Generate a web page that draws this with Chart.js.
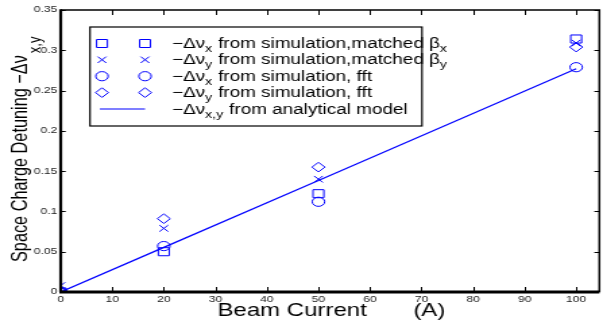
<!DOCTYPE html>
<html>
<head>
<meta charset="utf-8">
<script src="https://cdn.jsdelivr.net/npm/chart.js@4/dist/chart.umd.min.js"></script>
<style>
html,body{margin:0;padding:0;background:#fff;overflow:hidden;width:607px;height:322px;}
#wrap{position:absolute;left:0;top:0;width:451px;height:322px;transform:scaleX(1.349);transform-origin:0 0;}
canvas{display:block;}
</style>
</head>
<body>
<div id="wrap"><canvas id="c" width="451" height="322"></canvas></div>
<script>
// ---- data ----
const currents     = [0, 20, 50, 100];            // Beam current (A)
const dnuxMatched  = [0, 0.050, 0.122, 0.314];    // squares
const dnuyMatched  = [0.008, 0.079, 0.140, 0.309];// crosses
const dnuxFft      = [0, 0.057, 0.112, 0.279];    // circles
const dnuyFft      = [0, 0.091, 0.155, 0.304];    // diamonds
const analytical   = [0, 0.0554, 0.1385, 0.277];  // line
const xTickValues  = [0, 10, 20, 30, 40, 50, 60, 70, 80, 90, 100];
const yTickValues  = [0, 0.05, 0.1, 0.15, 0.2, 0.25, 0.3, 0.35];
const yTickLabels  = ['0', '0.05', '0.1', '0.15', '0.2', '0.25', '0.3', '0.35'];
const xTitle = 'Beam Current       (A)';
const yTitleMain = 'Space Charge Detuning \u2212\u0394\u03bd';
const yTitleSub = 'x,y';
// legend labels as [text, isSubscript] segments
const legendLabels = [
  [['\u2212\u0394\u03bd',0],['x',1],[' from simulation,matched \u03b2',0],['x',1]],
  [['\u2212\u0394\u03bd',0],['y',1],[' from simulation,matched \u03b2',0],['y',1]],
  [['\u2212\u0394\u03bd',0],['x',1],[' from simulation, fft',0]],
  [['\u2212\u0394\u03bd',0],['y',1],[' from simulation, fft',0]],
  [['\u2212\u0394\u03bd',0],['x,y',1],[' from analytical model',0]]
];
const legendStyles = ['rect','crossRot','circle','rectRot','line'];

const BLUE = '#0000ff';
const FONT = '"Liberation Sans", Arial, sans-serif';
const pts = arr => currents.map((c, i) => ({x: c, y: arr[i]}));

function markerDs(arr, style, r) {
  return {data: pts(arr), showLine: false, pointStyle: style, pointRadius: r, pointHoverRadius: r,
          pointBorderColor: BLUE, pointBackgroundColor: 'rgba(0,0,0,0)', pointBorderWidth: 1, borderColor: BLUE};
}

function drawMarker(ctx, style, x, y) {
  ctx.save();
  ctx.strokeStyle = BLUE; ctx.lineWidth = 1;
  ctx.beginPath();
  if (style === 'rect') { ctx.rect(x - 4, y - 4, 8, 8); }
  else if (style === 'crossRot') { ctx.moveTo(x-3.2,y-3.2); ctx.lineTo(x+3.2,y+3.2); ctx.moveTo(x+3.2,y-3.2); ctx.lineTo(x-3.2,y+3.2); }
  else if (style === 'circle') { ctx.arc(x, y, 4.6, 0, Math.PI*2); }
  else if (style === 'rectRot') { ctx.moveTo(x, y-4.8); ctx.lineTo(x+4.8, y); ctx.lineTo(x, y+4.8); ctx.lineTo(x-4.8, y); ctx.closePath(); }
  ctx.stroke();
  ctx.restore();
}

const decor = {
  id: 'decor',
  afterDraw(chart) {
    const ctx = chart.ctx, a = chart.chartArea;
    const xs = chart.scales.x, ys = chart.scales.y;
    ctx.save();
    // box
    ctx.strokeStyle = '#000';
    ctx.lineWidth = 1.5;
    ctx.beginPath(); ctx.moveTo(a.left, a.top); ctx.lineTo(a.right, a.top); ctx.lineTo(a.right, a.bottom); ctx.stroke();
    ctx.lineWidth = 2.2;
    ctx.beginPath(); ctx.moveTo(a.left, a.top - 0.7); ctx.lineTo(a.left, a.bottom); ctx.stroke();
    ctx.lineWidth = 3;
    ctx.beginPath(); ctx.moveTo(a.left - 1, a.bottom); ctx.lineTo(a.right, a.bottom); ctx.stroke();
    // inward ticks
    ctx.lineWidth = 1;
    ctx.beginPath();
    xTickValues.forEach(v => {
      const px = Math.round(xs.getPixelForValue(v)) + 0.5;
      ctx.moveTo(px, a.bottom); ctx.lineTo(px, a.bottom - 5);
      ctx.moveTo(px, a.top); ctx.lineTo(px, a.top + 5);
    });
    yTickValues.forEach(v => {
      const py = Math.round(ys.getPixelForValue(v)) + 0.5;
      ctx.moveTo(a.left, py); ctx.lineTo(a.left + 3.7, py);
      ctx.moveTo(a.right, py); ctx.lineTo(a.right - 3.7, py);
    });
    ctx.stroke();

    // x title
    ctx.fillStyle = '#000';
    ctx.font = '17.8px ' + FONT;
    ctx.textAlign = 'center'; ctx.textBaseline = 'alphabetic';
    ctx.fillText(xTitle, (a.left + a.right) / 2 + 1, 315.5);

    // y title (rotated)
    ctx.save();
    ctx.translate(20, 262);
    ctx.rotate(-Math.PI / 2);
    ctx.textAlign = 'left';
    ctx.font = '16.3px ' + FONT;
    ctx.fillText(yTitleMain, 0, 0);
    const w = ctx.measureText(yTitleMain).width;
    ctx.font = '13px ' + FONT;
    ctx.fillText(yTitleSub, w + 2, 10);
    ctx.restore();

    // legend
    const L = 66.7, T = 27, R = 312.8, B = 126;
    ctx.fillStyle = '#fff';
    ctx.fillRect(L, T, R - L, B - T);
    ctx.strokeStyle = '#000'; ctx.lineWidth = 1.2;
    ctx.strokeRect(L, T, R - L, B - T);
    const rows = [43.5, 59.8, 76.2, 92.6, 109];
    legendLabels.forEach((segs, i) => {
      const y = rows[i];
      const st = legendStyles[i];
      if (st === 'line') {
        ctx.save(); ctx.strokeStyle = BLUE; ctx.lineWidth = 1.2;
        ctx.beginPath(); ctx.moveTo(74, y); ctx.lineTo(107.5, y); ctx.stroke(); ctx.restore();
      } else {
        drawMarker(ctx, st, 75.6, y);
        drawMarker(ctx, st, 107.5, y);
      }
      let tx = 127.5;
      ctx.fillStyle = '#000';
      ctx.textAlign = 'left';
      segs.forEach(([t, sub]) => {
        ctx.font = (sub ? '10.5px ' : '14px ') + FONT;
        ctx.fillText(t, tx, y + (sub ? 8.5 : 4.5));
        tx += ctx.measureText(t).width + (sub ? 0.5 : 0);
      });
    });
    ctx.restore();
  }
};

new Chart(document.getElementById('c'), {
  type: 'scatter',
  data: {
    datasets: [
      {data: pts(analytical), showLine: true, pointRadius: 0, borderColor: BLUE, borderWidth: 1.2, fill: false},
      markerDs(dnuxMatched, 'rect', 5.7),
      markerDs(dnuyMatched, 'crossRot', 4.6),
      markerDs(dnuxFft, 'circle', 4.6),
      markerDs(dnuyFft, 'rectRot', 4.8)
    ]
  },
  options: {
    responsive: false,
    animation: false,
    devicePixelRatio: 1,
    layout: {padding: {top: 10, right: 0, left: 0, bottom: 0}},
    plugins: {legend: {display: false}, tooltip: {enabled: false}},
    scales: {
      x: {
        type: 'linear', min: 0, max: 104.5,
        grid: {display: false, drawTicks: false}, border: {display: false},
        afterBuildTicks: s => { s.ticks = xTickValues.map(v => ({value: v})); },
        afterFit: s => { s.height = 30; },
        ticks: {padding: 2, color: '#222', font: {family: FONT, size: 9}, maxRotation: 0, autoSkip: false}
      },
      y: {
        type: 'linear', min: 0, max: 0.35,
        grid: {display: false, drawTicks: false}, border: {display: false},
        afterBuildTicks: s => { s.ticks = yTickValues.map(v => ({value: v})); },
        afterFit: s => { s.width = 45; },
        ticks: {padding: 2.5, color: '#222', font: {family: FONT, size: 9},
                autoSkip: false,
                callback: (v) => { const i = yTickValues.findIndex(t => Math.abs(t - v) < 1e-9); return i >= 0 ? yTickLabels[i] : ''; }}
      }
    }
  },
  plugins: [decor]
});
</script>
</body>
</html>
